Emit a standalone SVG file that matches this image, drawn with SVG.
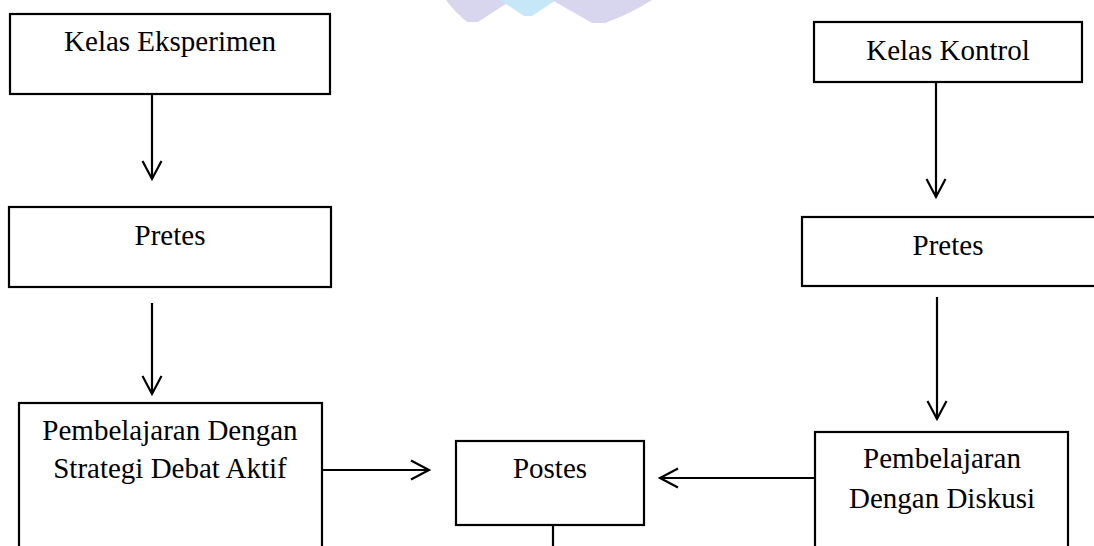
<svg xmlns="http://www.w3.org/2000/svg" width="1094" height="546" viewBox="0 0 1094 546">
<style>
.box{fill:#fff;stroke:#000;stroke-width:2.2}
.t{font-family:"Liberation Serif","Times New Roman",serif;font-size:29px;fill:#000;text-anchor:middle}
.c{fill:none;stroke:#000;stroke-width:2.2}
</style>
<defs>
<marker id="arr" viewBox="-22 -12 26 24" markerWidth="26" markerHeight="24" refX="0" refY="0" orient="auto" markerUnits="userSpaceOnUse">
<path d="M-18,-9.5 L0,0 L-18,9.5" fill="none" stroke="#000" stroke-width="2.2" stroke-linejoin="miter"/>
</marker>
</defs>
<rect width="1094" height="546" fill="#fff"/>
<g id="watermark">
<path d="M446,0 L512,0 L478,22 L467,22 Q455,12 446,0 Z" fill="#d8d5ee"/>
<path d="M500,0 L556,0 L532,16 L524,16 Z" fill="#c6e7f7"/>
<path d="M552,0 L652,0 Q630,14 605,23 L592,23 Z" fill="#d8d5ee"/>
</g>
<g id="connectors">
<line class="c" x1="152" y1="87" x2="152" y2="179" marker-end="url(#arr)"/>
<line class="c" x1="152" y1="303" x2="152" y2="394" marker-end="url(#arr)"/>
<line class="c" x1="322" y1="470" x2="429" y2="470" marker-end="url(#arr)"/>
<line class="c" x1="815" y1="478" x2="660" y2="478" marker-end="url(#arr)"/>
<line class="c" x1="936" y1="82" x2="936" y2="197" marker-end="url(#arr)"/>
<line class="c" x1="937" y1="297" x2="937" y2="419" marker-end="url(#arr)"/>
<line class="c" x1="553" y1="525" x2="553" y2="548"/>
</g>
<g id="kelas-eksperimen">
<rect class="box" x="10" y="14" width="320" height="80"/>
<text class="t" x="170" y="51">Kelas Eksperimen</text>
</g>
<g id="pretes-eksperimen">
<rect class="box" x="9" y="207" width="322" height="80"/>
<text class="t" x="170" y="245">Pretes</text>
</g>
<g id="pembelajaran-debat">
<rect class="box" x="19" y="403" width="303" height="160"/>
<text class="t" x="170" y="440">Pembelajaran Dengan</text>
<text class="t" x="170" y="478">Strategi Debat Aktif</text>
</g>
<g id="postes">
<rect class="box" x="456" y="441" width="188" height="84"/>
<text class="t" x="550" y="478">Postes</text>
</g>
<g id="kelas-kontrol">
<rect class="box" x="814" y="22" width="268" height="60"/>
<text class="t" x="948" y="60">Kelas Kontrol</text>
</g>
<g id="pretes-kontrol">
<rect class="box" x="802" y="217" width="300" height="69"/>
<text class="t" x="948" y="255">Pretes</text>
</g>
<g id="pembelajaran-diskusi">
<rect class="box" x="815" y="432" width="253" height="140"/>
<text class="t" x="942" y="468">Pembelajaran</text>
<text class="t" x="942" y="508">Dengan Diskusi</text>
</g>
</svg>
